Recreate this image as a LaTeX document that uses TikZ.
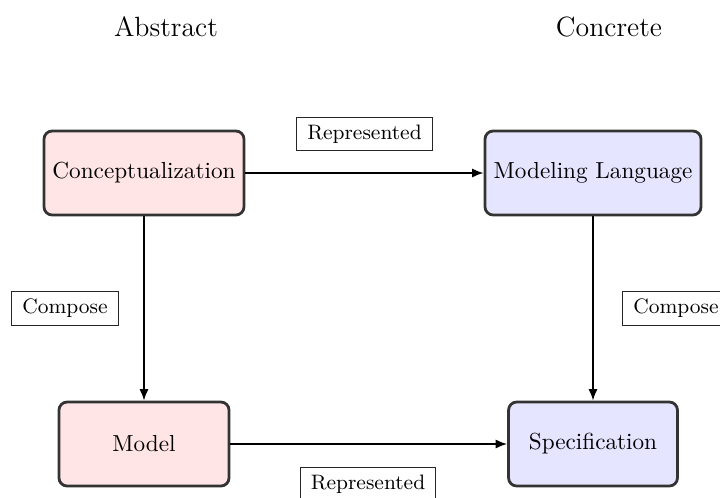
\documentclass[tikz,border=0pt]{standalone}
\usetikzlibrary{arrows.meta}
\begin{document}
\begin{tikzpicture}[x=0.431pt,y=-0.431pt,
  concept/.style={draw=black!80, very thick, rounded corners=3.5pt, minimum height=36.2pt, align=center, inner sep=2pt},
  abstractbox/.style={concept, fill=red!10},
  concretebox/.style={concept, fill=blue!10},
  relbox/.style={draw=black!85, line width=0.5pt, font=\small, inner xsep=4.5pt, inner ysep=3.2pt, fill=white},
  flow/.style={draw=black, thick, -{Latex[length=5pt,width=4pt]}},
  heading/.style={font=\large}
]
\useasboundingbox (0,0) rectangle (720,497);

% column headings
\node[heading] (habs) at (166,27) {Abstract};
\node[heading] (hcon) at (609,27) {Concrete};

% the four concept boxes
\node[abstractbox, minimum width=86.2pt] (concept) at (144,173) {Conceptualization};
\node[concretebox, minimum width=93.1pt] (lang) at (593,173) {Modeling Language};
\node[abstractbox, minimum width=73.3pt] (model) at (144,444) {Model};
\node[concretebox, minimum width=72.8pt] (spec) at (593,444) {Specification};

% relations
\draw[flow] (concept.east) -- (lang.west);
\draw[flow] (concept.south) -- (model.north);
\draw[flow] (lang.south) -- (spec.north);
\draw[flow] (model.east) -- (spec.west);

% relation labels
\node[relbox] (rtop) at (364.5,134) {Represented};
\node[relbox] (cleft) at (65,308.5) {Compose};
\node[relbox] (cright) at (676,308.5) {Compose};
\node[relbox] (rbot) at (368,484) {Represented};
\end{tikzpicture}
\end{document}
